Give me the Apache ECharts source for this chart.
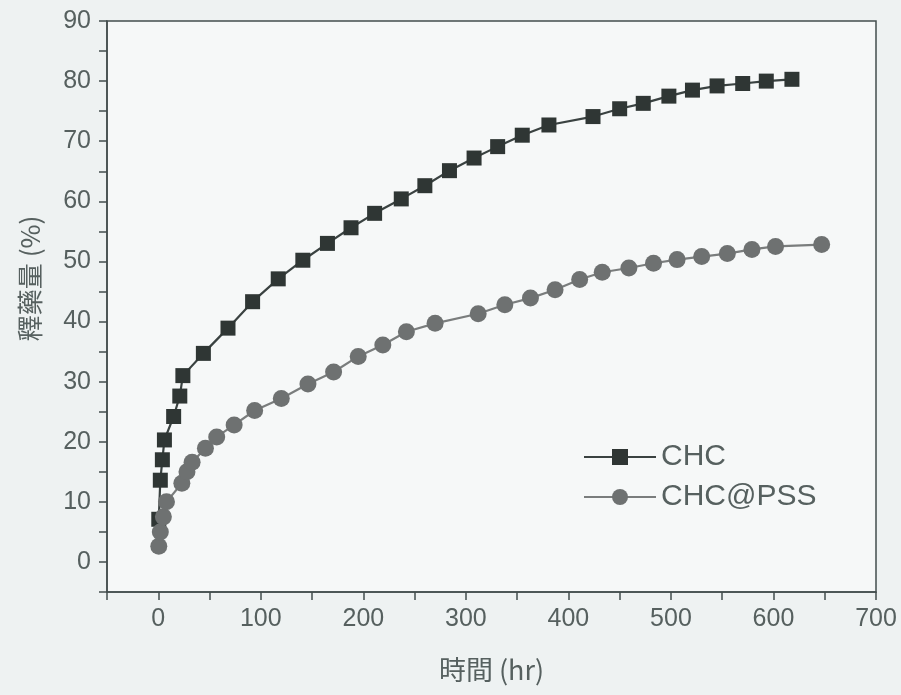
<!DOCTYPE html>
<html>
<head>
<meta charset="utf-8">
<script src="https://cdn.jsdelivr.net/npm/echarts@6/dist/echarts.min.js"></script>
<style>html,body{margin:0;padding:0;background:#eef2f2;}#c{width:901px;height:695px;}</style>
</head>
<body>
<div id="c"></div>
<script>
// Data
const chcTime = [0.5, 2, 4, 6, 15, 21, 24, 44, 68, 92, 117, 141, 165, 188, 211, 237, 260, 284, 308, 331, 355, 381, 424, 450, 473, 498, 521, 545, 570, 593, 618];
const chcRelease = [7.1, 13.6, 17.0, 20.3, 24.2, 27.6, 31.0, 34.7, 38.9, 43.3, 47.1, 50.2, 53.0, 55.6, 58.0, 60.4, 62.6, 65.1, 67.2, 69.1, 71.0, 72.7, 74.1, 75.4, 76.3, 77.5, 78.5, 79.2, 79.6, 80.0, 80.3];
const pssTime = [0.5, 2, 5, 8, 23, 28, 33, 46, 57, 74, 94, 120, 146, 171, 195, 219, 242, 270, 312, 338, 363, 387, 411, 433, 459, 483, 506, 530, 555, 579, 602, 647];
const pssRelease = [2.6, 5.0, 7.5, 10.0, 13.1, 15.0, 16.6, 18.9, 20.8, 22.8, 25.2, 27.2, 29.6, 31.6, 34.2, 36.1, 38.3, 39.7, 41.3, 42.8, 43.9, 45.3, 47.0, 48.2, 48.9, 49.7, 50.3, 50.8, 51.3, 52.0, 52.5, 52.8];
const seriesNames = ['CHC', 'CHC@PSS'];
const xAxisTitle = '時間 (hr)';
const yAxisTitle = '釋藥量 (%)';

const pair = (xs, ys) => xs.map((x, i) => [x, ys[i]]);
const axisColor = '#434d4d';
const textColor = '#56605f';
const fontLatin = '"Liberation Sans", Arial, "Noto Sans CJK TC", sans-serif';
const fontCJK = '"Noto Sans CJK TC", "Liberation Sans", sans-serif';

const chart = echarts.init(document.getElementById('c'), null, {renderer: 'canvas'});
chart.setOption({
  backgroundColor: '#eef2f2',
  animation: false,
  grid: {
    left: 107, right: 25, top: 21, bottom: 103,
    show: true, backgroundColor: '#f6f8f8',
    borderColor: axisColor, borderWidth: 1.5
  },
  legend: {
    orient: 'vertical',
    left: 578, top: 437,
    itemWidth: 72, itemHeight: 20, itemGap: 10,
    textStyle: {fontSize: 30, color: textColor, fontFamily: fontLatin},
    data: seriesNames
  },
  xAxis: {
    type: 'value', min: -50, max: 700, interval: 50,
    name: xAxisTitle, nameLocation: 'middle', nameGap: 64,
    nameTextStyle: {fontSize: 27, color: textColor, fontFamily: fontCJK},
    axisLine: {show: true, onZero: false, lineStyle: {color: axisColor, width: 1.5}},
    axisTick: {show: true, inside: false, length: 8, lineStyle: {color: axisColor, width: 1.5}},
    axisLabel: {
      fontSize: 25, color: textColor, fontFamily: fontLatin, margin: 15,
      formatter: v => (v % 100 === 0 ? String(v) : '')
    },
    splitLine: {show: false}
  },
  yAxis: {
    type: 'value', min: -5, max: 90, interval: 5,
    name: yAxisTitle, nameLocation: 'middle', nameGap: 64,
    nameTextStyle: {fontSize: 26, color: textColor, fontFamily: fontCJK, padding: [0, 0, 0, 56]},
    axisLine: {show: true, onZero: false, lineStyle: {color: axisColor, width: 1.5}},
    axisTick: {show: true, inside: false, length: 8, lineStyle: {color: axisColor, width: 1.5}},
    axisLabel: {
      fontSize: 25, color: textColor, fontFamily: fontLatin, margin: 16,
      formatter: v => (v % 10 === 0 ? String(v) : '')
    },
    splitLine: {show: false}
  },
  series: [
    {
      name: seriesNames[0], type: 'line', data: pair(chcTime, chcRelease),
      symbol: 'rect', symbolSize: 15,
      itemStyle: {color: '#2f3634', borderWidth: 0},
      lineStyle: {color: '#3a4241', width: 2.2}
    },
    {
      name: seriesNames[1], type: 'line', data: pair(pssTime, pssRelease),
      symbol: 'circle', symbolSize: 17,
      itemStyle: {color: '#6e7171', borderWidth: 0},
      lineStyle: {color: '#7a7d7d', width: 2.2}
    }
  ]
});
</script>
</body>
</html>
